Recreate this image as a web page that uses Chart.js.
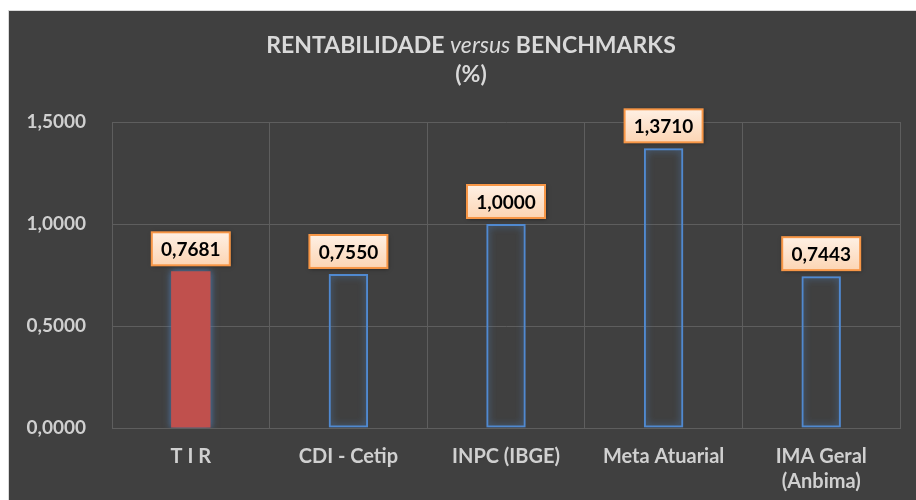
<!DOCTYPE html>
<html>
<head>
<meta charset="utf-8">
<script src="https://cdn.jsdelivr.net/npm/chart.js@4"></script>
<style>
  html, body { margin: 0; padding: 0; background: #ffffff; }
  #wrap {
    position: absolute; left: 8px; top: 10px;
    width: 907px; height: 489px;
    background: #404040; border-left: 1px solid #d9d9d9; border-top: 1px solid #d9d9d9;
  }
</style>
</head>
<body>
<div id="wrap"><canvas id="chart" width="907" height="489"></canvas></div>
<script>
// ===== DATA =====
const categories = ['T I R', 'CDI - Cetip', 'INPC (IBGE)', 'Meta Atuarial', ['IMA Geral', '(Anbima)']];
const values = [0.7681, 0.7550, 1.0000, 1.3710, 0.7443];
const yTicks = [0, 0.5, 1.0, 1.5];

const FONT = 'Lato, "Open Sans", sans-serif';
const fmt = v => v.toFixed(4).replace('.', ',');

// Judul dengan "versus" miring
const titlePlugin = {
    id: 'titlePlugin',
    afterDraw(chart) {
        const ctx = chart.ctx;
        ctx.save();
        ctx.fillStyle = '#d9d9d9';
        ctx.textBaseline = 'middle';
        const parts = [
            { t: 'RENTABILIDADE ', f: 'bold 23px ' + FONT },
            { t: 'versus', f: 'italic 23px ' + FONT },
            { t: ' BENCHMARKS', f: 'bold 23px ' + FONT }
        ];
        let total = 0;
        parts.forEach(p => { ctx.font = p.f; p.w = ctx.measureText(p.t).width; total += p.w; });
        let x = 462 - total / 2;
        parts.forEach(p => { ctx.font = p.f; ctx.textAlign = 'left'; ctx.fillText(p.t, x, 35); x += p.w; });
        ctx.font = 'bold 23px ' + FONT;
        ctx.textAlign = 'center';
        ctx.fillText('(%)', 462, 64);
        ctx.restore();
    }
};

// Efek glow untuk batang biru
const glowPlugin = {
    id: 'glowPlugin',
    beforeDatasetsDraw(chart) {
        chart.ctx.save();
        chart.ctx.shadowColor = 'rgba(79,129,189,0.9)';
        chart.ctx.shadowBlur = 7;
    },
    afterDatasetsDraw(chart) {
        chart.ctx.restore();
    }
};

// Label nilai dalam kotak oranye
const labelPlugin = {
    id: 'labelPlugin',
    afterDatasetsDraw(chart) {
        const ctx = chart.ctx;
        const meta = chart.getDatasetMeta(0);
        ctx.save();
        ctx.font = 'bold 19px ' + FONT;
        meta.data.forEach((bar, i) => {
            const text = fmt(values[i]);
            const w = 78, h = 33;
            const x = bar.x - w / 2;
            const y = bar.y - 6 - h;
            ctx.save();
            ctx.shadowColor = 'rgba(0,0,0,0.5)';
            ctx.shadowBlur = 4;
            ctx.shadowOffsetX = 1;
            ctx.shadowOffsetY = 1;
            const g = ctx.createLinearGradient(0, y, 0, y + h);
            g.addColorStop(0, '#fef0e4');
            g.addColorStop(1, '#fcd5b4');
            ctx.fillStyle = g;
            ctx.fillRect(x, y, w, h);
            ctx.restore();
            ctx.strokeStyle = '#f79646';
            ctx.lineWidth = 2;
            ctx.strokeRect(x, y, w, h);
            ctx.fillStyle = '#000000';
            ctx.textAlign = 'center';
            ctx.textBaseline = 'middle';
            ctx.fillText(text, bar.x, y + h / 2 + 1);
        });
        ctx.restore();
    }
};

const ctx = document.getElementById('chart').getContext('2d');
new Chart(ctx, {
    type: 'bar',
    data: {
        labels: categories,
        datasets: [{
            data: values,
            backgroundColor: values.map((v, i) => i === 0 ? '#c0504d' : 'rgba(0,0,0,0)'),
            borderColor: values.map((v, i) => i === 0 ? '#c0504d' : '#5089d0'),
            borderWidth: values.map((v, i) => i === 0 ? 0 : 2),
            borderSkipped: false,
            barPercentage: 0.25,
            categoryPercentage: 1
        }]
    },
    options: {
        responsive: false,
        animation: false,
        layout: { padding: { top: 111, right: 16, left: 0, bottom: 0 } },
        plugins: {
            legend: { display: false },
            tooltip: { enabled: false }
        },
        scales: {
            y: {
                min: 0,
                max: 1.5,
                afterFit: s => { s.width = 103; },
                afterBuildTicks: s => { s.ticks = yTicks.map(v => ({ value: v })); },
                ticks: {
                    color: '#d0d0d0',
                    padding: 26,
                    font: { family: FONT, size: 19, weight: 'bold' },
                    callback: v => fmt(v)
                },
                grid: { color: '#5e5e5e', lineWidth: 1, drawTicks: false },
                border: { color: '#5e5e5e' }
            },
            x: {
                afterFit: s => { s.height = 72; },
                ticks: {
                    color: '#d0d0d0',
                    padding: 16,
                    font: { family: FONT, size: 20, weight: 'bold', lineHeight: 1.25 },
                    maxRotation: 0
                },
                grid: { color: '#5e5e5e', lineWidth: 1, drawTicks: false, offset: true },
                border: { color: '#5e5e5e' }
            }
        }
    },
    plugins: [titlePlugin, glowPlugin, labelPlugin]
});
</script>
</body>
</html>
